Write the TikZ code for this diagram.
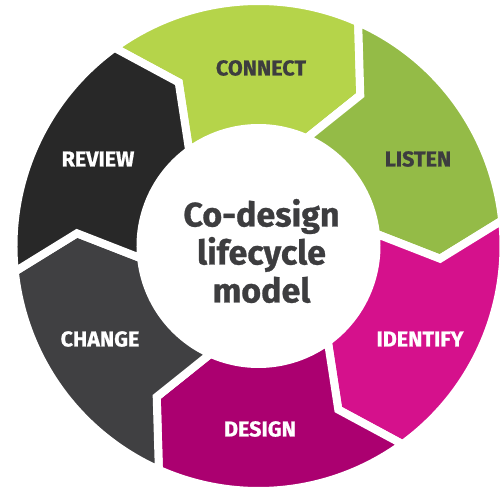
\documentclass[tikz,border=0pt]{standalone}
\usepackage{fontspec}
\setmainfont{Fira Sans}[BoldFeatures={FakeBold=0.8}]
\definecolor{connectgreen}{HTML}{B5D44A}
\definecolor{listengreen}{HTML}{94BB47}
\definecolor{identifypink}{HTML}{D5118C}
\definecolor{designpurple}{HTML}{AB0070}
\definecolor{changegrey}{HTML}{404042}
\definecolor{reviewblack}{HTML}{282828}
\definecolor{textgrey}{HTML}{3D3D3F}
\begin{document}
\begin{tikzpicture}[x=1pt,y=1pt,
  segment/.style={fill=#1,draw=white,line width=8pt,line join=miter,miter limit=10},
  steplabel/.style={font=\fontsize{21.5}{25}\selectfont\bfseries,text=white,inner sep=0pt},
  darklabel/.style={steplabel,text=textgrey},
  title/.style={font=\fontsize{34}{38}\selectfont\bfseries,text=textgrey,align=center,inner sep=0pt}]
% canvas: origin at the ring centre
\useasboundingbox (-258.5,-244) rectangle (242.5,246);
\fill[white] (-258.5,-244) rectangle (242.5,246);
% ring radii: outer, chevron tip, inner
\def\Ro{245}
\def\Rm{182}
\def\Ri{118}
% one chevron segment starting at angle #1 (counter-clockwise end)
\newcommand{\ringseg}[2]{%
  \filldraw[segment=#2]
    (#1:\Ro pt) arc[start angle=#1, end angle=#1-60, radius=\Ro pt]
    -- (#1-70:\Rm pt)
    -- (#1-60:\Ri pt) arc[start angle=#1-60, end angle=#1, radius=\Ri pt]
    -- (#1-10:\Rm pt) -- cycle;}
\ringseg{126}{connectgreen}
\ringseg{66}{listengreen}
\ringseg{6}{identifypink}
\ringseg{-54}{designpurple}
\ringseg{-114}{changegrey}
\ringseg{-174}{reviewblack}
% step labels
\node[darklabel] (connect) at (2.5,178) {CONNECT};
\node[darklabel] (listen) at (159.5,87) {LISTEN};
\node[steplabel] (identify) at (161.5,-93) {IDENTIFY};
\node[steplabel] (design) at (1.5,-183) {DESIGN};
\node[steplabel] (change) at (-158.5,-93) {CHANGE};
\node[steplabel] (review) at (-160.5,87) {REVIEW};
% centre title
\node[title] (model) at (3,-5) {Co-design\\lifecycle\\model};
\end{tikzpicture}
\end{document}
